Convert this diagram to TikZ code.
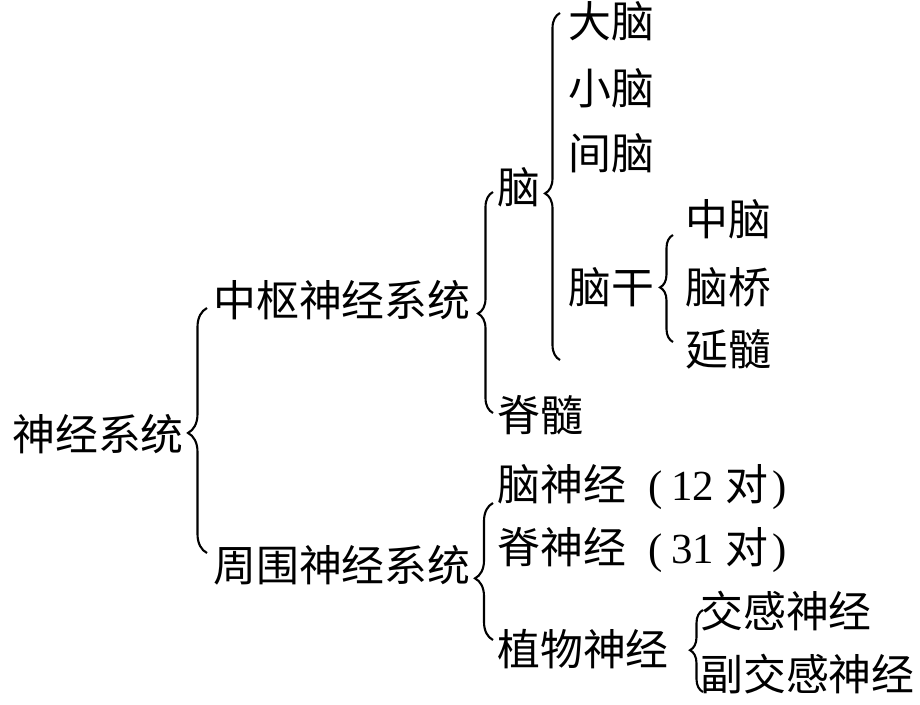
\documentclass[tikz,border=0pt]{standalone}
\usepackage{fontspec}
\setmainfont{Liberation Serif}
\newfontfamily\cjkfont{Noto Sans CJK SC}
\usetikzlibrary{decorations.pathreplacing}

\begin{document}
\begin{tikzpicture}[
    x=0.02cm, y=-0.02cm,
    font=\cjkfont\fontsize{24.4pt}{29pt}\selectfont,
    term/.style={anchor=west, inner sep=0pt, yshift=-0.19cm, text height=0.8em, text depth=0.08em},
    bracket/.style 2 args={draw=black, line width=1.2pt, decorate,
        decoration={brace, amplitude=#1, aspect=#2}}
]
\useasboundingbox (0,0) rectangle (920,704);

% Level 1: the whole nervous system.
\node[term] (ns) at (12,435) {神经系统};
\node[term] (cns) at (213,301) {中枢神经系统};
\node[term] (pns) at (213,566) {周围神经系统};
\coordinate (ns-b) at (207,553);
\coordinate (ns-t) at (207,308);
\draw[bracket={0.38cm}{0.49}] (ns-b) -- (ns-t);

% Central branch: brain and spinal cord.
\node[term] (brain) at (497,188) {脑};
\node[term] (cord) at (497,416) {脊髓};
\coordinate (cns-b) at (493,413);
\coordinate (cns-t) at (493,192);
\draw[bracket={0.30cm}{0.45}] (cns-b) -- (cns-t);

% Parts of the brain.
\node[term] (cer) at (568,22) {大脑};
\node[term] (cbl) at (568,89) {小脑};
\node[term] (dien) at (568,154) {间脑};
\node[term] (stem) at (568,288) {脑干};
\coordinate (brain-b) at (560,360);
\coordinate (brain-t) at (560,13);
\draw[bracket={0.30cm}{0.48}] (brain-b) -- (brain-t);

% Brain stem.
\node[term] (mid) at (685,220) {中脑};
\node[term] (pons) at (685,288) {脑桥};
\node[term] (med) at (685,350) {延髓};
\coordinate (stem-b) at (673,342);
\coordinate (stem-t) at (673,235);
\draw[bracket={0.26cm}{0.51}] (stem-b) -- (stem-t);

% Peripheral branch.
\node[term] (cran) at (497,485) {脑神经\hspace{0.53em}{\rmfamily(\hspace{0.2em}12~}对\hspace{0.1em}{\rmfamily)}};
\node[term] (spin) at (497,548) {脊神经\hspace{0.53em}{\rmfamily(\hspace{0.2em}31~}对\hspace{0.1em}{\rmfamily)}};
\node[term] (auto) at (497,650) {植物神经};
\coordinate (pns-b) at (493,640);
\coordinate (pns-t) at (493,503);
\draw[bracket={0.36cm}{0.45}] (pns-b) -- (pns-t);

% Autonomic nerves.
\node[term] (symp) at (700,612) {交感神经};
\node[term] (para) at (700,675) {副交感神经};
\coordinate (auto-b) at (703,692);
\coordinate (auto-t) at (703,610);
\draw[bracket={0.26cm}{0.51}] (auto-b) -- (auto-t);

\end{tikzpicture}
\end{document}
